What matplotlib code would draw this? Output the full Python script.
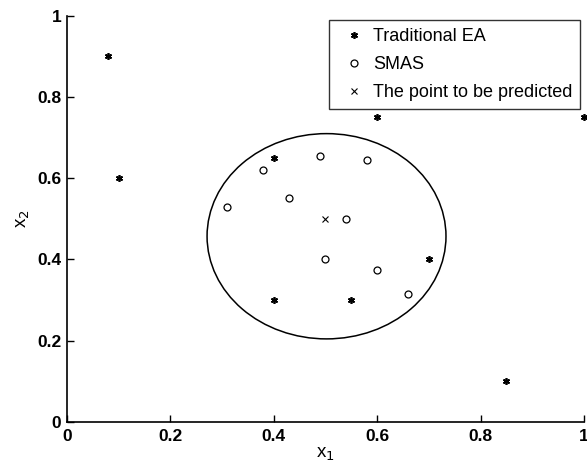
import matplotlib.pyplot as plt
from matplotlib.patches import Ellipse

# Traditional EA points
ea_x = [0.08, 0.10, 0.40, 0.60, 1.00, 0.40, 0.55, 0.70, 0.85]
ea_y = [0.90, 0.60, 0.65, 0.75, 0.75, 0.30, 0.30, 0.40, 0.10]

# SMAS points
smas_x = [0.31, 0.38, 0.43, 0.49, 0.58, 0.54, 0.50, 0.60, 0.66]
smas_y = [0.53, 0.62, 0.55, 0.655, 0.645, 0.50, 0.40, 0.375, 0.315]

# point to be predicted
pred_x = [0.50]
pred_y = [0.50]

plt.rcParams['font.family'] = ['Liberation Sans', 'DejaVu Sans']

fig = plt.figure(figsize=(5.87, 4.71), dpi=100)
ax = fig.add_axes([0.114, 0.104, 0.881, 0.863])

ax.plot(ea_x, ea_y, linestyle='none', marker=(6, 2, 0), ms=5, mew=1.2,
        color='black', label='Traditional EA', clip_on=False)
ax.plot(smas_x, smas_y, linestyle='none', marker='o', ms=5, mfc='none',
        mew=0.9, color='black', label='SMAS')
ax.plot(pred_x, pred_y, linestyle='none', marker='x', ms=4, mew=0.8,
        color='black', label='The point to be predicted')

ax.add_patch(Ellipse((0.502, 0.457), 0.462, 0.505, fill=False,
                     edgecolor='black', lw=1.1))

ax.set_xlim(0, 1)
ax.set_ylim(0, 1)
ax.set_xticks([0, 0.2, 0.4, 0.6, 0.8, 1])
ax.set_yticks([0, 0.2, 0.4, 0.6, 0.8, 1])
ax.set_xticklabels(['0', '0.2', '0.4', '0.6', '0.8', '1'])
ax.set_yticklabels(['0', '0.2', '0.4', '0.6', '0.8', '1'])
ax.tick_params(direction='in', length=5, labelsize=12.5, width=1, pad=5)
ax.tick_params(axis='y', pad=4)
for lab in ax.get_xticklabels() + ax.get_yticklabels():
    lab.set_fontweight('bold')
ax.spines['top'].set_visible(False)
ax.spines['right'].set_visible(False)
ax.spines['left'].set_linewidth(1.2)
ax.spines['bottom'].set_linewidth(1.2)

ax.set_xlabel('x$_1$', fontsize=13.5, labelpad=1)
ax.set_ylabel('x$_2$', fontsize=13.5, labelpad=4)

leg = ax.legend(loc='upper right', bbox_to_anchor=(0.993, 0.988), fontsize=13,
                frameon=True, fancybox=False, edgecolor='black',
                handlelength=1.9, borderpad=0.42, labelspacing=0.62,
                handletextpad=0.15, borderaxespad=0)
leg.get_frame().set_linewidth(1.0)

fig.savefig('out.png', dpi=100)
